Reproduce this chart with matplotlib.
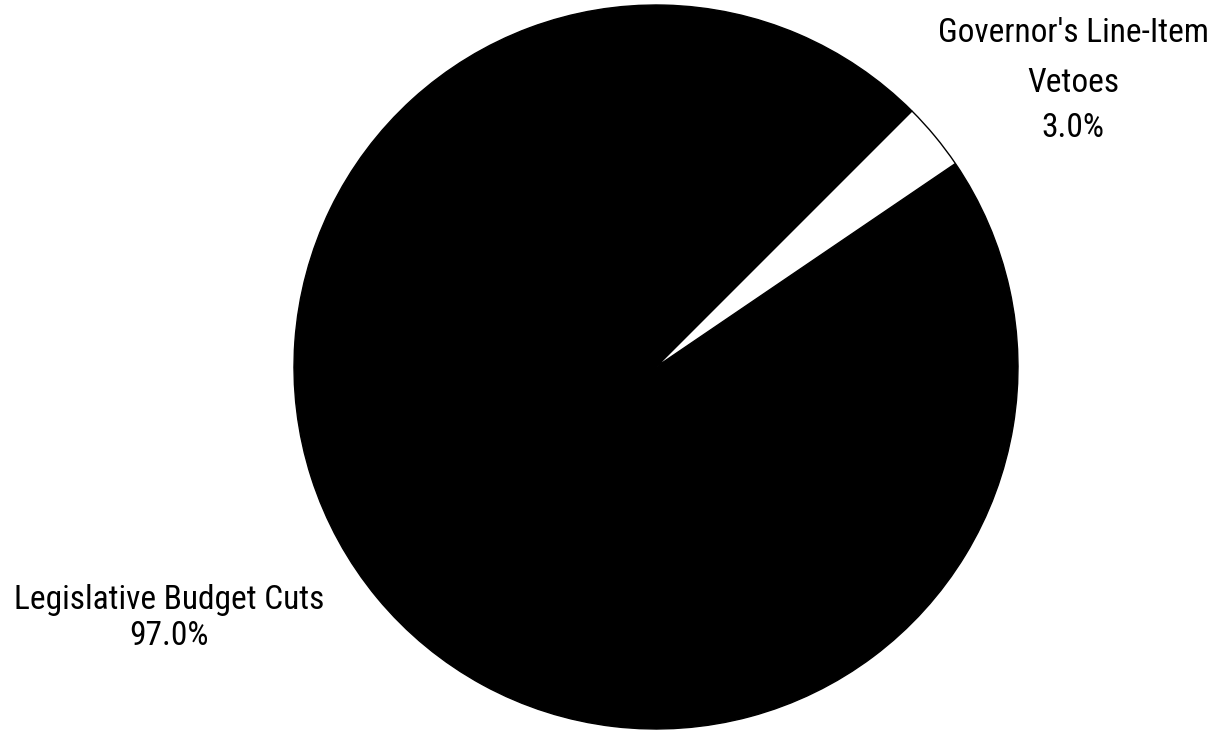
import matplotlib
matplotlib.use('Agg')
import matplotlib.pyplot as plt

# data
labels = ["Legislative Budget Cuts", "Governor's Line-Item Vetoes"]
shares = [97.0, 3.0]
colors = ['black', 'white']

plt.rcParams['font.family'] = ['Roboto Condensed', 'DejaVu Sans']

W, H = 1219, 730
fig = plt.figure(figsize=(W / 100, H / 100), dpi=100)
ax = fig.add_axes([0, 0, 1, 1])

wedges, _ = ax.pie(shares, colors=colors, startangle=45, counterclock=True,
                   wedgeprops=dict(edgecolor='black', linewidth=1))

# pie centre at (656, 367) px, radius 362 px
r, cx, cy = 362.0, 656.0, 367.0
ax.set_xlim(-cx / r, (W - cx) / r)
ax.set_ylim(-(H - cy) / r, cy / r)
ax.set_aspect('auto')
ax.axis('off')

def line(txt, x, y):
    fig.text(x / W, 1 - y / H, txt, ha='center', va='baseline', fontsize=24, color='black')

# governor label (split over three lines)
line("Governor's Line-Item", 1073, 42)
line("Vetoes", 1073, 92)
line(f"{shares[1]:.1f}%", 1073, 137)

# legislative label
line(labels[0], 169, 609)
line(f"{shares[0]:.1f}%", 169, 645)

fig.savefig('out.png', dpi=100)
